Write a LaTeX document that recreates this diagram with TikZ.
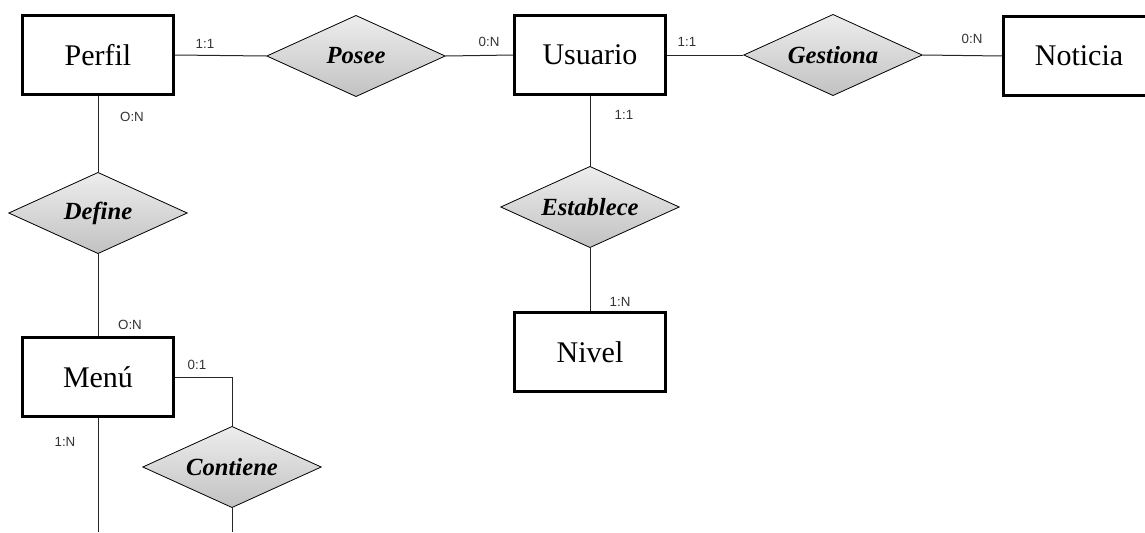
\documentclass[tikz,border=0pt]{standalone}
\usepackage{fontspec}
\setmainfont{Liberation Serif}
\setsansfont{Liberation Sans}
\usepackage{tikz}
\usetikzlibrary{shapes.geometric,shadows}
\usepackage{xcolor}

\begin{document}
\begin{tikzpicture}[x=0.75pt,y=-0.75pt,entity/.style={draw,line width=1.9pt,fill=white,minimum width=113pt,minimum height=59pt,inner sep=0pt,font=\fontsize{22.5}{26}\selectfont,drop shadow={opacity=0.25,shadow xshift=0.8pt,shadow yshift=-0.8pt}},relation/.style={draw,diamond,aspect=2.2,line width=0.6pt,top color=black!7,bottom color=black!24,minimum width=134pt,minimum height=61pt,inner sep=0pt,font=\fontsize{18.5}{22}\selectfont\bfseries\itshape},card/.style={font=\sffamily\fontsize{10}{12}\selectfont,text=black!80,inner sep=0pt},link/.style={line width=0.75pt,black!85}]
\useasboundingbox (0,0) rectangle (1145,532);
% entidades
\node[entity] (perfil) at (98,55) {Perfil}; \node[entity] (usuario) at (590,55) {Usuario}; \node[entity] (noticia) at (1079,56) {Noticia}; \node[entity] (nivel) at (590,352) {Nivel}; \node[entity] (menu) at (98,377) {Menú};
% relaciones
\node[relation] (posee) at (356,56) {Posee}; \node[relation] (gestiona) at (833,55) {Gestiona}; \node[relation] (define) at (98,213) {Define}; \node[relation] (establece) at (590,207) {Establece}; \node[relation] (contiene) at (232,467) {Contiene};
\coordinate (menuend) at (98,532); \coordinate (contend) at (232,532);
% conectores
\draw[link] (perfil.east) -- (posee.west); \draw[link] (posee.east) -- (usuario.west); \draw[link] (usuario.east) -- (gestiona.west); \draw[link] (gestiona.east) -- (noticia.west);
\draw[link] (perfil.south) -- (define.north); \draw[link] (define.south) -- (menu.north); \draw[link] (usuario.south) -- (establece.north); \draw[link] (establece.south) -- (nivel.north);
\draw[link] (menu.east) -| (contiene.north); \draw[link] (menu.south) -- (menuend); \draw[link] (contiene.south) -- (contend);
% cardinalidades
\node[card] (cposee1) at (205,44) {1:1}; \node[card] (cposee2) at (489,42) {0:N}; \node[card] (cgest1) at (687,42) {1:1}; \node[card] (cgest2) at (972,39) {0:N};
\node[card] (cdef1) at (132,117) {O:N}; \node[card] (cdef2) at (130,325) {O:N}; \node[card] (cest1) at (624,115) {1:1}; \node[card] (cest2) at (620,302) {1:N};
\node[card] (ccont1) at (197,365) {0:1}; \node[card] (cmenu) at (65,442) {1:N};
\end{tikzpicture}
\end{document}
